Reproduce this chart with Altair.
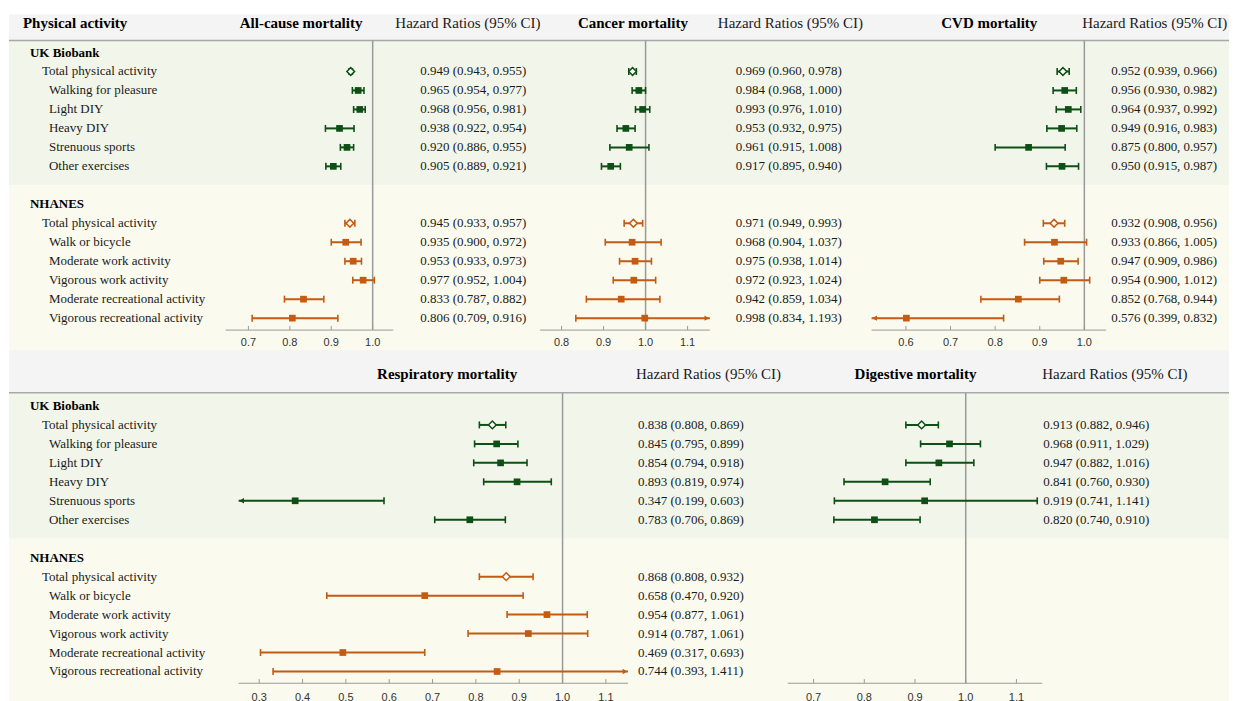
import altair as alt
import pandas as pd

# ---------------- data ----------------
ukb_items = ["Total physical activity", "Walking for pleasure", "Light DIY",
             "Heavy DIY", "Strenuous sports", "Other exercises"]
nh_items = ["Total physical activity", "Walk or bicycle", "Moderate work activity",
            "Vigorous work activity", "Moderate recreational activity",
            "Vigorous recreational activity"]
cohorts = ["UK Biobank", "NHANES"]

# All-cause mortality (plotted estimate / CI, then printed text)
ac_est = [0.947, 0.965, 0.969, 0.920, 0.938, 0.905, 0.945, 0.935, 0.953, 0.977, 0.833, 0.806]
ac_lo = [0.943, 0.951, 0.954, 0.886, 0.922, 0.887, 0.933, 0.900, 0.933, 0.952, 0.787, 0.709]
ac_hi = [0.951, 0.979, 0.982, 0.955, 0.954, 0.923, 0.957, 0.972, 0.973, 1.004, 0.882, 0.916]
ac_txt = ["0.949 (0.943, 0.955)", "0.965 (0.954, 0.977)", "0.968 (0.956, 0.981)",
          "0.938 (0.922, 0.954)", "0.920 (0.886, 0.955)", "0.905 (0.889, 0.921)",
          "0.945 (0.933, 0.957)", "0.935 (0.900, 0.972)", "0.953 (0.933, 0.973)",
          "0.977 (0.952, 1.004)", "0.833 (0.787, 0.882)", "0.806 (0.709, 0.916)"]

# Cancer mortality
ca_est = [0.969, 0.984, 0.993, 0.953, 0.961, 0.917, 0.971, 0.968, 0.975, 0.972, 0.942, 0.998]
ca_lo = [0.960, 0.968, 0.976, 0.932, 0.915, 0.895, 0.949, 0.904, 0.938, 0.923, 0.859, 0.834]
ca_hi = [0.978, 1.000, 1.010, 0.975, 1.008, 0.940, 0.993, 1.037, 1.014, 1.024, 1.034, 1.193]
ca_txt = ["0.969 (0.960, 0.978)", "0.984 (0.968, 1.000)", "0.993 (0.976, 1.010)",
          "0.953 (0.932, 0.975)", "0.961 (0.915, 1.008)", "0.917 (0.895, 0.940)",
          "0.971 (0.949, 0.993)", "0.968 (0.904, 1.037)", "0.975 (0.938, 1.014)",
          "0.972 (0.923, 1.024)", "0.942 (0.859, 1.034)", "0.998 (0.834, 1.193)"]

# CVD mortality
cv_est = [0.952, 0.956, 0.964, 0.949, 0.875, 0.950, 0.932, 0.933, 0.947, 0.954, 0.852, 0.601]
cv_lo = [0.939, 0.930, 0.937, 0.916, 0.800, 0.915, 0.908, 0.866, 0.909, 0.900, 0.768, 0.399]
cv_hi = [0.966, 0.982, 0.992, 0.983, 0.957, 0.987, 0.956, 1.005, 0.986, 1.012, 0.944, 0.819]
cv_txt = ["0.952 (0.939, 0.966)", "0.956 (0.930, 0.982)", "0.964 (0.937, 0.992)",
          "0.949 (0.916, 0.983)", "0.875 (0.800, 0.957)", "0.950 (0.915, 0.987)",
          "0.932 (0.908, 0.956)", "0.933 (0.866, 1.005)", "0.947 (0.909, 0.986)",
          "0.954 (0.900, 1.012)", "0.852 (0.768, 0.944)", "0.576 (0.399, 0.832)"]

# Respiratory mortality
re_est = [0.838, 0.848, 0.857, 0.895, 0.383, 0.786, 0.870, 0.682, 0.964, 0.921, 0.493, 0.849]
re_lo = [0.808, 0.797, 0.795, 0.818, 0.199, 0.705, 0.808, 0.456, 0.872, 0.782, 0.303, 0.332]
re_hi = [0.869, 0.897, 0.918, 0.974, 0.588, 0.868, 0.932, 0.909, 1.057, 1.058, 0.682, 1.411]
re_txt = ["0.838 (0.808, 0.869)", "0.845 (0.795, 0.899)", "0.854 (0.794, 0.918)",
          "0.893 (0.819, 0.974)", "0.347 (0.199, 0.603)", "0.783 (0.706, 0.869)",
          "0.868 (0.808, 0.932)", "0.658 (0.470, 0.920)", "0.954 (0.877, 1.061)",
          "0.914 (0.787, 1.061)", "0.469 (0.317, 0.693)", "0.744 (0.393, 1.411)"]

# Digestive mortality (UK Biobank only)
di_est = [0.913, 0.968, 0.947, 0.841, 0.919, 0.820]
di_lo = [0.882, 0.911, 0.882, 0.760, 0.741, 0.740]
di_hi = [0.946, 1.029, 1.016, 0.930, 1.141, 0.910]
di_txt = ["0.913 (0.882, 0.946)", "0.968 (0.911, 1.029)", "0.947 (0.882, 1.016)",
          "0.841 (0.760, 0.930)", "0.919 (0.741, 1.141)", "0.820 (0.740, 0.910)"]

ticks_ac = [0.7, 0.8, 0.9, 1.0]
ticks_ca = [0.8, 0.9, 1.0, 1.1]
ticks_cv = [0.6, 0.7, 0.8, 0.9, 1.0]
ticks_re = [0.3, 0.4, 0.5, 0.6, 0.7, 0.8, 0.9, 1.0, 1.1]
ticks_di = [0.7, 0.8, 0.9, 1.0, 1.1]

# ---------------- style ----------------
GREEN = "#0d4f14"
ORANGE = "#c55a11"
HEAD_BG = "#f4f4f4"
UKB_BG = "#f2f6ea"
NH_BG = "#fafaee"
SEP_C = "#a8a8a8"
AX_C = "#9a9a9a"
REF_C = "#9a9a9a"
SERIF = "Liberation Serif"
SANS = "Liberation Sans"
TXT_C = "#1a1a1a"
SPLIT = 7.0
FULL_W = 1222

TOP = dict(ydom=[-2.0, 15.68], sep=-0.63, head=-1.58, H=336, ax=14.63, lab=15.33)
BOT = dict(ydom=[-2.95, 16.0], sep=-0.7, head=-1.7, H=360, ax=14.62, lab=15.42)


def yscale(sec):
    return alt.Scale(domain=sec["ydom"], nice=False, zero=False, reverse=True)


def Y(field, sec):
    return alt.Y(field, scale=yscale(sec), axis=None)


def bands(sec):
    # drawn once in the first column, spanning the full row width
    d0, d1 = sec["ydom"]
    df = pd.DataFrame({"y0": [d0, sec["sep"], SPLIT], "y1": [sec["sep"], SPLIT, d1],
                       "c": [HEAD_BG, UKB_BG, NH_BG]})
    rect = alt.Chart(df).mark_rect(strokeWidth=0).encode(
        x=alt.value(0), x2=alt.value(FULL_W), y=Y("y0:Q", sec), y2="y1:Q",
        color=alt.Color("c:N", scale=None))
    line = alt.Chart(pd.DataFrame({"y": [sec["sep"]]})).mark_rule(
        color=SEP_C, strokeWidth=1.6).encode(x=alt.value(0), x2=alt.value(FULL_W), y=Y("y:Q", sec))
    return [rect, line]


def row_frame(n):
    rows, kind, col = [], [], []
    for i in range(n):
        g = i // 6
        j = i % 6
        rows.append(1 + j + 8 * g)
        kind.append("total" if j == 0 else "item")
        col.append(GREEN if g == 0 else ORANGE)
    return pd.DataFrame({"row": rows, "kind": kind, "c": col})


def panel(W, sec, dom, ticks, title, title_x, est, lo, hi):
    df = row_frame(len(est))
    df["est"] = est
    df["lo"] = lo
    df["hi"] = hi
    xs = alt.Scale(domain=dom, nice=False, zero=False, clamp=True)

    def X(f):
        return alt.X(f, scale=xs, axis=None)

    col = alt.Color("c:N", scale=None)
    layers = []
    tdf = pd.DataFrame({"t": ticks})
    ax = sec["ax"]
    # axis
    layers.append(alt.Chart(pd.DataFrame({"y": [ax]})).mark_rule(color=AX_C, strokeWidth=1).encode(
        x=alt.value(0), x2=alt.value(W), y=Y("y:Q", sec)))
    layers.append(alt.Chart(tdf).transform_calculate(ya=str(ax - 0.22), yb=str(ax)).mark_rule(
        color=AX_C, strokeWidth=1).encode(x=X("t:Q"), y=Y("ya:Q", sec), y2="yb:Q"))
    layers.append(alt.Chart(tdf).transform_calculate(yl=str(sec["lab"]), lab="format(datum.t, '.1f')").mark_text(
        font=SANS, fontSize=11, color="#333333", baseline="middle").encode(
        x=X("t:Q"), y=Y("yl:Q", sec), text="lab:N"))
    # reference line at 1
    layers.append(alt.Chart(pd.DataFrame({"x": [1.0], "ya": [sec["sep"]], "yb": [ax]})).mark_rule(
        color=REF_C, strokeWidth=1.5).encode(x=X("x:Q"), y=Y("ya:Q", sec), y2="yb:Q"))
    # title
    layers.append(alt.Chart(pd.DataFrame({"t": [title], "y": [sec["head"]]})).mark_text(
        font=SERIF, fontSize=15, fontWeight="bold", align="right", baseline="middle", color="black").encode(
        x=alt.value(title_x), y=Y("y:Q", sec), text="t:N"))
    base = alt.Chart(df)
    # CI line
    layers.append(base.mark_rule(strokeWidth=2).encode(x=X("lo:Q"), x2="hi:Q", y=Y("row:Q", sec), color=col))
    # caps
    layers.append(base.transform_filter(f"datum.lo >= {dom[0]}").mark_tick(
        orient="vertical", size=7, thickness=1.6, opacity=1).encode(x=X("lo:Q"), y=Y("row:Q", sec), color=col))
    layers.append(base.transform_filter(f"datum.hi <= {dom[1]}").mark_tick(
        orient="vertical", size=7, thickness=1.6, opacity=1).encode(x=X("hi:Q"), y=Y("row:Q", sec), color=col))
    # arrows
    layers.append(base.transform_filter(f"datum.lo < {dom[0]}").mark_point(
        shape="triangle-left", filled=True, size=30, opacity=1, xOffset=3).encode(
        x=X("lo:Q"), y=Y("row:Q", sec), color=col))
    layers.append(base.transform_filter(f"datum.hi > {dom[1]}").mark_point(
        shape="triangle-right", filled=True, size=30, opacity=1, xOffset=-3).encode(
        x=X("hi:Q"), y=Y("row:Q", sec), color=col))
    # markers
    layers.append(base.transform_filter("datum.kind == 'item'").mark_square(size=45, opacity=1).encode(
        x=X("est:Q"), y=Y("row:Q", sec), color=col))
    layers.append(base.transform_filter("datum.kind == 'total'").mark_point(
        shape="diamond", filled=True, fill="white", strokeWidth=1.5, size=60, opacity=1).encode(
        x=X("est:Q"), y=Y("row:Q", sec), stroke=alt.Stroke("c:N", scale=None)))
    return alt.layer(*layers).properties(width=W, height=sec["H"])


def hr_column(W, sec, texts, x_val, x_head):
    df = row_frame(len(texts))
    df["txt"] = texts
    layers = []
    layers.append(alt.Chart(pd.DataFrame({"t": ["Hazard Ratios (95% CI)"], "y": [sec["head"]]})).mark_text(
        font=SERIF, fontSize=15, align="left", baseline="middle", color=TXT_C).encode(
        x=alt.value(x_head), y=Y("y:Q", sec), text="t:N"))
    layers.append(alt.Chart(df).mark_text(
        font=SERIF, fontSize=13, align="left", baseline="middle", color=TXT_C).encode(
        x=alt.value(x_val), y=Y("row:Q", sec), text="txt:N"))
    return alt.layer(*layers).properties(width=W, height=sec["H"])


def label_column(W, sec, header):
    layers = bands(sec)
    if header:
        layers.append(alt.Chart(pd.DataFrame({"t": [header], "y": [sec["head"]]})).mark_text(
            font=SERIF, fontSize=15, fontWeight="bold", align="left", baseline="middle", color="black").encode(
            x=alt.value(14), y=Y("y:Q", sec), text="t:N"))
    gdf = pd.DataFrame({"t": cohorts, "row": [0, 8]})
    layers.append(alt.Chart(gdf).mark_text(
        font=SERIF, fontSize=13, fontWeight="bold", align="left", baseline="middle", color="black").encode(
        x=alt.value(21), y=Y("row:Q", sec), text="t:N"))
    df = row_frame(12)
    df["t"] = ukb_items + nh_items
    layers.append(alt.Chart(df).transform_filter("datum.kind == 'total'").mark_text(
        font=SERIF, fontSize=13, align="left", baseline="middle", color=TXT_C).encode(
        x=alt.value(33), y=Y("row:Q", sec), text="t:N"))
    layers.append(alt.Chart(df).transform_filter("datum.kind == 'item'").mark_text(
        font=SERIF, fontSize=13, align="left", baseline="middle", color=TXT_C).encode(
        x=alt.value(40), y=Y("row:Q", sec), text="t:N"))
    return alt.layer(*layers).properties(width=W, height=sec["H"])


top = alt.hconcat(
    label_column(217, TOP, "Physical activity"),
    panel(168, TOP, [0.645, 1.05], ticks_ac, "All-cause mortality", 137, ac_est, ac_lo, ac_hi),
    hr_column(147, TOP, ac_txt, 27, 2),
    panel(170, TOP, [0.749, 1.153], ticks_ca, "Cancer mortality", 148, ca_est, ca_lo, ca_hi),
    hr_column(162, TOP, ca_txt, 26, 8),
    panel(235, TOP, [0.523, 1.049], ticks_cv, "CVD mortality", 166, cv_est, cv_lo, cv_hi),
    hr_column(123, TOP, cv_txt, 5, -24),
    spacing=0, bounds="flush")

bottom = alt.hconcat(
    label_column(230, BOT, ""),
    panel(390, BOT, [0.2525, 1.151], ticks_re, "Respiratory mortality", 279, re_est, re_lo, re_hi),
    hr_column(160, BOT, re_txt, 10, 8),
    panel(255, BOT, [0.649, 1.151], ticks_di, "Digestive mortality", 189, di_est, di_lo, di_hi),
    hr_column(187, BOT, di_txt, 1, 0),
    spacing=0, bounds="flush")

chart = alt.vconcat(top, bottom, spacing=0, bounds="full").properties(
    padding={"left": 0, "top": 6, "right": 0, "bottom": 0},
    background="white"
).configure_view(strokeWidth=0, stroke="transparent")

chart.save("out.html", embed_options={"renderer": "svg", "actions": False})
